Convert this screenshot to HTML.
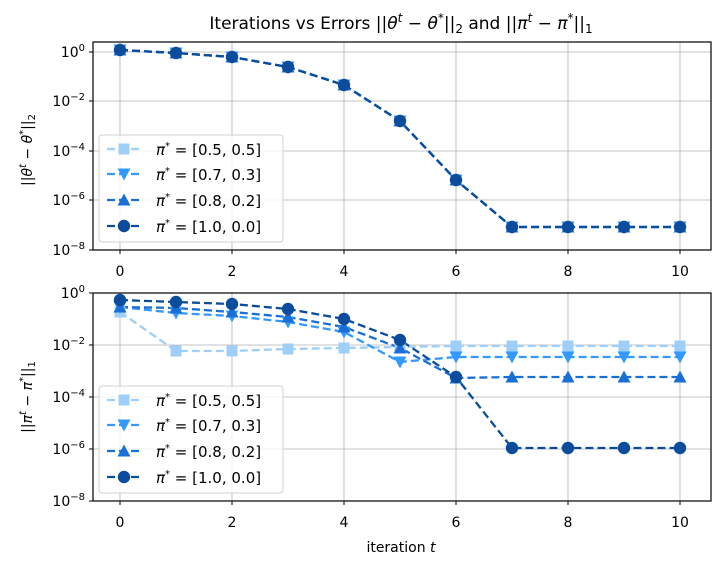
<!DOCTYPE html>
<html><head><meta charset="utf-8"><style>
body{margin:0;background:#fff}
svg{display:block;font-family:"DejaVu Sans","Liberation Sans",sans-serif}
</style></head><body>
<svg width="720" height="566" viewBox="0 0 720 566" xmlns="http://www.w3.org/2000/svg">
<defs>
<g id="sq"><rect x="-5.5" y="-5.5" width="11" height="11"/></g>
<g id="dn"><polygon points="-6.5,-5.5 6.5,-5.5 0,6.5"/></g>
<g id="up"><polygon points="-6.5,5.5 6.5,5.5 0,-6.5"/></g>
<g id="ci"><circle r="6.2"/></g>
</defs>
<text x="401" y="29" font-size="17" text-anchor="middle">Iterations vs Errors ||<tspan font-style="italic">θ</tspan><tspan font-size="12" dy="-7" font-style="italic">t</tspan><tspan dy="7"> − </tspan><tspan font-style="italic">θ</tspan><tspan font-size="12" dy="-7">*</tspan><tspan dy="7">||</tspan><tspan font-size="12" dy="4">2</tspan><tspan dy="-4"> and ||</tspan><tspan font-style="italic">π</tspan><tspan font-size="12" dy="-7" font-style="italic">t</tspan><tspan dy="7"> − </tspan><tspan font-style="italic">π</tspan><tspan font-size="12" dy="-7">*</tspan><tspan dy="7">||</tspan><tspan font-size="12" dy="4">1</tspan></text>

<!-- TOP AXES -->
<g stroke="#b0b0b0" stroke-width="0.8">
<line x1="120" y1="42" x2="120" y2="250"/><line x1="232" y1="42" x2="232" y2="250"/><line x1="344" y1="42" x2="344" y2="250"/><line x1="456" y1="42" x2="456" y2="250"/><line x1="568" y1="42" x2="568" y2="250"/><line x1="680" y1="42" x2="680" y2="250"/>
<line x1="93" y1="52" x2="711" y2="52"/><line x1="93" y1="101" x2="711" y2="101"/><line x1="93" y1="151" x2="711" y2="151"/><line x1="93" y1="200" x2="711" y2="200"/>
</g>
<g font-size="14" text-anchor="middle">
<text x="120" y="276">0</text><text x="232" y="276">2</text><text x="344" y="276">4</text><text x="456" y="276">6</text><text x="568" y="276">8</text><text x="680" y="276">10</text>
</g>
<g font-size="14" text-anchor="end">
<text x="85" y="57">10<tspan font-size="10" dy="-6">0</tspan></text>
<text x="85" y="106">10<tspan font-size="10" dy="-6">−2</tspan></text>
<text x="85" y="156">10<tspan font-size="10" dy="-6">−4</tspan></text>
<text x="85" y="205">10<tspan font-size="10" dy="-6">−6</tspan></text>
<text x="85" y="255">10<tspan font-size="10" dy="-6">−8</tspan></text>
</g>
<text transform="translate(32,150) rotate(-90)" font-size="14" text-anchor="middle">||<tspan font-style="italic">θ</tspan><tspan font-size="10" dy="-6" font-style="italic">t</tspan><tspan dy="6"> − </tspan><tspan font-style="italic">θ</tspan><tspan font-size="10" dy="-6">*</tspan><tspan dy="6">||</tspan><tspan font-size="10" dy="3">2</tspan></text>
<g fill="none" stroke-width="2.3" stroke-dasharray="8,4">
<polyline stroke="#9ecff8" points="120,50 176,53 232,57 288,67 344,85 400,121 456,180 512,227 568,227 624,227 680,227"/>
<polyline stroke="#3399ff" points="120,50 176,53 232,57 288,67 344,85 400,121 456,180 512,227 568,227 624,227 680,227"/>
<polyline stroke="#1a6fd6" points="120,50 176,53 232,57 288,67 344,85 400,121 456,180 512,227 568,227 624,227 680,227"/>
<polyline stroke="#0b4c9c" points="120,50 176,53 232,57 288,67 344,85 400,121 456,180 512,227 568,227 624,227 680,227"/>
</g>
<g fill="#9ecff8"><use href="#sq" x="120" y="50"/><use href="#sq" x="176" y="53"/><use href="#sq" x="232" y="57"/><use href="#sq" x="288" y="67"/><use href="#sq" x="344" y="85"/><use href="#sq" x="400" y="121"/><use href="#sq" x="456" y="180"/><use href="#sq" x="512" y="227"/><use href="#sq" x="568" y="227"/><use href="#sq" x="624" y="227"/><use href="#sq" x="680" y="227"/></g>
<g fill="#3399ff"><use href="#dn" x="120" y="50"/><use href="#dn" x="176" y="53"/><use href="#dn" x="232" y="57"/><use href="#dn" x="288" y="67"/><use href="#dn" x="344" y="85"/><use href="#dn" x="400" y="121"/><use href="#dn" x="456" y="180"/><use href="#dn" x="512" y="227"/><use href="#dn" x="568" y="227"/><use href="#dn" x="624" y="227"/><use href="#dn" x="680" y="227"/></g>
<g fill="#1a6fd6"><use href="#up" x="120" y="50"/><use href="#up" x="176" y="53"/><use href="#up" x="232" y="57"/><use href="#up" x="288" y="67"/><use href="#up" x="344" y="85"/><use href="#up" x="400" y="121"/><use href="#up" x="456" y="180"/><use href="#up" x="512" y="227"/><use href="#up" x="568" y="227"/><use href="#up" x="624" y="227"/><use href="#up" x="680" y="227"/></g>
<g fill="#0b4c9c"><use href="#ci" x="120" y="50"/><use href="#ci" x="176" y="53"/><use href="#ci" x="232" y="57"/><use href="#ci" x="288" y="67"/><use href="#ci" x="344" y="85"/><use href="#ci" x="400" y="121"/><use href="#ci" x="456" y="180"/><use href="#ci" x="512" y="227"/><use href="#ci" x="568" y="227"/><use href="#ci" x="624" y="227"/><use href="#ci" x="680" y="227"/></g>
<rect x="93" y="42" width="618" height="208" fill="none" stroke="#000" stroke-width="1.2"/>
<g stroke="#000"><line x1="120" y1="250" x2="120" y2="254"/><line x1="232" y1="250" x2="232" y2="254"/><line x1="344" y1="250" x2="344" y2="254"/><line x1="456" y1="250" x2="456" y2="254"/><line x1="568" y1="250" x2="568" y2="254"/><line x1="680" y1="250" x2="680" y2="254"/>
<line x1="89" y1="52" x2="93" y2="52"/><line x1="89" y1="101" x2="93" y2="101"/><line x1="89" y1="151" x2="93" y2="151"/><line x1="89" y1="200" x2="93" y2="200"/><line x1="89" y1="250" x2="93" y2="250"/></g>

<!-- legend top -->
<g>
<rect x="99" y="135" width="184" height="107" rx="3" fill="#fff" fill-opacity="0.8" stroke="#d0d0d0"/>
<g stroke-width="2.3" stroke-dasharray="8,4">
<line x1="107" y1="149" x2="142" y2="149" stroke="#9ecff8"/><line x1="107" y1="174" x2="142" y2="174" stroke="#3399ff"/><line x1="107" y1="200" x2="142" y2="200" stroke="#1a6fd6"/><line x1="107" y1="226" x2="142" y2="226" stroke="#0b4c9c"/>
</g>
<use href="#sq" x="124" y="149" fill="#9ecff8"/><use href="#dn" x="124" y="174" fill="#3399ff"/><use href="#up" x="124" y="200" fill="#1a6fd6"/><use href="#ci" x="124" y="226" fill="#0b4c9c"/>
<g font-size="15"><text x="156" y="155"><tspan font-style="italic">π</tspan><tspan font-size="10" dy="-6">*</tspan><tspan dy="6"> = [0.5, 0.5]</tspan></text>
<text x="156" y="180"><tspan font-style="italic">π</tspan><tspan font-size="10" dy="-6">*</tspan><tspan dy="6"> = [0.7, 0.3]</tspan></text>
<text x="156" y="206"><tspan font-style="italic">π</tspan><tspan font-size="10" dy="-6">*</tspan><tspan dy="6"> = [0.8, 0.2]</tspan></text>
<text x="156" y="232"><tspan font-style="italic">π</tspan><tspan font-size="10" dy="-6">*</tspan><tspan dy="6"> = [1.0, 0.0]</tspan></text></g>
</g>

<!-- BOTTOM AXES -->
<g stroke="#b0b0b0" stroke-width="0.8">
<line x1="120" y1="293" x2="120" y2="501"/><line x1="232" y1="293" x2="232" y2="501"/><line x1="344" y1="293" x2="344" y2="501"/><line x1="456" y1="293" x2="456" y2="501"/><line x1="568" y1="293" x2="568" y2="501"/><line x1="680" y1="293" x2="680" y2="501"/>
<line x1="93" y1="345" x2="711" y2="345"/><line x1="93" y1="397" x2="711" y2="397"/><line x1="93" y1="449" x2="711" y2="449"/>
</g>
<g font-size="14" text-anchor="middle">
<text x="120" y="527">0</text><text x="232" y="527">2</text><text x="344" y="527">4</text><text x="456" y="527">6</text><text x="568" y="527">8</text><text x="680" y="527">10</text>
<text x="401" y="552">iteration <tspan font-style="italic">t</tspan></text>
</g>
<g font-size="14" text-anchor="end">
<text x="85" y="298">10<tspan font-size="10" dy="-6">0</tspan></text>
<text x="85" y="350">10<tspan font-size="10" dy="-6">−2</tspan></text>
<text x="85" y="402">10<tspan font-size="10" dy="-6">−4</tspan></text>
<text x="85" y="454">10<tspan font-size="10" dy="-6">−6</tspan></text>
<text x="85" y="506">10<tspan font-size="10" dy="-6">−8</tspan></text>
</g>
<text transform="translate(32,397) rotate(-90)" font-size="14" text-anchor="middle">||<tspan font-style="italic">π</tspan><tspan font-size="10" dy="-6" font-style="italic">t</tspan><tspan dy="6"> − </tspan><tspan font-style="italic">π</tspan><tspan font-size="10" dy="-6">*</tspan><tspan dy="6">||</tspan><tspan font-size="10" dy="3">1</tspan></text>
<g fill="none" stroke-width="2.3" stroke-dasharray="8,4">
<polyline stroke="#9ecff8" points="120,312 176,351 232,351 288,349 344,348 400,347 456,346 512,346 568,346 624,346 680,346"/>
<polyline stroke="#3399ff" points="120,307 176,313 232,316 288,322 344,332 400,362 456,357 512,357 568,357 624,357 680,357"/>
<polyline stroke="#1a6fd6" points="120,307 176,308 232,312 288,317 344,327 400,348 456,378 512,377 568,377 624,377 680,377"/>
<polyline stroke="#0b4c9c" points="120,300 176,302 232,304 288,309 344,319 400,340 456,377 512,448 568,448 624,448 680,448"/>
</g>
<g fill="#9ecff8"><use href="#sq" x="120" y="312"/><use href="#sq" x="176" y="351"/><use href="#sq" x="232" y="351"/><use href="#sq" x="288" y="349"/><use href="#sq" x="344" y="348"/><use href="#sq" x="400" y="347"/><use href="#sq" x="456" y="346"/><use href="#sq" x="512" y="346"/><use href="#sq" x="568" y="346"/><use href="#sq" x="624" y="346"/><use href="#sq" x="680" y="346"/></g>
<g fill="#3399ff"><use href="#dn" x="120" y="307"/><use href="#dn" x="176" y="313"/><use href="#dn" x="232" y="316"/><use href="#dn" x="288" y="322"/><use href="#dn" x="344" y="332"/><use href="#dn" x="400" y="362"/><use href="#dn" x="456" y="357"/><use href="#dn" x="512" y="357"/><use href="#dn" x="568" y="357"/><use href="#dn" x="624" y="357"/><use href="#dn" x="680" y="357"/></g>
<g fill="#1a6fd6"><use href="#up" x="120" y="307"/><use href="#up" x="176" y="308"/><use href="#up" x="232" y="312"/><use href="#up" x="288" y="317"/><use href="#up" x="344" y="327"/><use href="#up" x="400" y="348"/><use href="#up" x="456" y="378"/><use href="#up" x="512" y="377"/><use href="#up" x="568" y="377"/><use href="#up" x="624" y="377"/><use href="#up" x="680" y="377"/></g>
<g fill="#0b4c9c"><use href="#ci" x="120" y="300"/><use href="#ci" x="176" y="302"/><use href="#ci" x="232" y="304"/><use href="#ci" x="288" y="309"/><use href="#ci" x="344" y="319"/><use href="#ci" x="400" y="340"/><use href="#ci" x="456" y="377"/><use href="#ci" x="512" y="448"/><use href="#ci" x="568" y="448"/><use href="#ci" x="624" y="448"/><use href="#ci" x="680" y="448"/></g>
<rect x="93" y="293" width="618" height="208" fill="none" stroke="#000" stroke-width="1.2"/>
<g stroke="#000"><line x1="120" y1="501" x2="120" y2="505"/><line x1="232" y1="501" x2="232" y2="505"/><line x1="344" y1="501" x2="344" y2="505"/><line x1="456" y1="501" x2="456" y2="505"/><line x1="568" y1="501" x2="568" y2="505"/><line x1="680" y1="501" x2="680" y2="505"/>
<line x1="89" y1="293" x2="93" y2="293"/><line x1="89" y1="345" x2="93" y2="345"/><line x1="89" y1="397" x2="93" y2="397"/><line x1="89" y1="449" x2="93" y2="449"/><line x1="89" y1="501" x2="93" y2="501"/></g>

<!-- legend bottom -->
<g transform="translate(0,251)">
<rect x="99" y="135" width="184" height="107" rx="3" fill="#fff" fill-opacity="0.8" stroke="#d0d0d0"/>
<g stroke-width="2.3" stroke-dasharray="8,4">
<line x1="107" y1="149" x2="142" y2="149" stroke="#9ecff8"/><line x1="107" y1="174" x2="142" y2="174" stroke="#3399ff"/><line x1="107" y1="200" x2="142" y2="200" stroke="#1a6fd6"/><line x1="107" y1="226" x2="142" y2="226" stroke="#0b4c9c"/>
</g>
<use href="#sq" x="124" y="149" fill="#9ecff8"/><use href="#dn" x="124" y="174" fill="#3399ff"/><use href="#up" x="124" y="200" fill="#1a6fd6"/><use href="#ci" x="124" y="226" fill="#0b4c9c"/>
<g font-size="15"><text x="156" y="155"><tspan font-style="italic">π</tspan><tspan font-size="10" dy="-6">*</tspan><tspan dy="6"> = [0.5, 0.5]</tspan></text>
<text x="156" y="180"><tspan font-style="italic">π</tspan><tspan font-size="10" dy="-6">*</tspan><tspan dy="6"> = [0.7, 0.3]</tspan></text>
<text x="156" y="206"><tspan font-style="italic">π</tspan><tspan font-size="10" dy="-6">*</tspan><tspan dy="6"> = [0.8, 0.2]</tspan></text>
<text x="156" y="232"><tspan font-style="italic">π</tspan><tspan font-size="10" dy="-6">*</tspan><tspan dy="6"> = [1.0, 0.0]</tspan></text></g>
</g>
</svg>
</body></html>
